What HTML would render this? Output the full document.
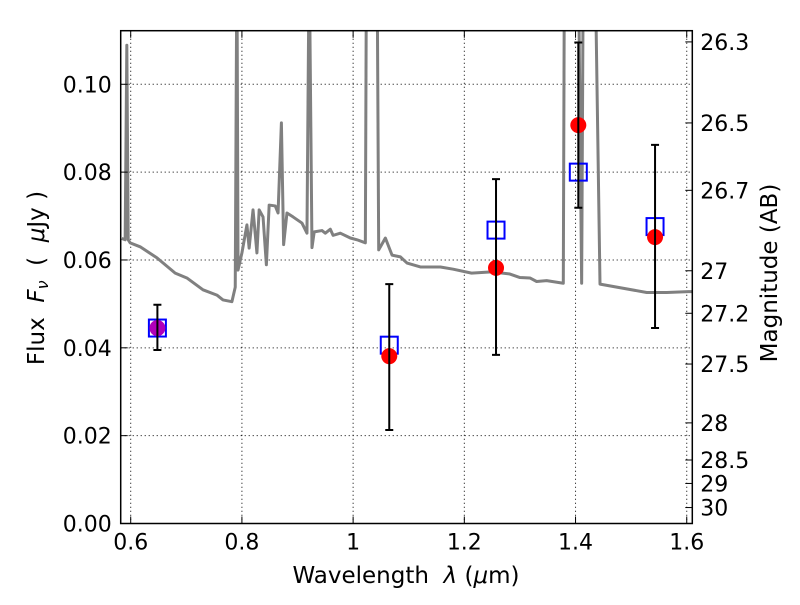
<!DOCTYPE html>
<html><head><meta charset="utf-8"><style>body{margin:0;background:#fff}svg text{font-family:"DejaVu Sans","Liberation Sans",sans-serif}</style></head>
<body>
<svg id="chart" width="800" height="600" xmlns="http://www.w3.org/2000/svg">
<g id="grid"></g>
<g id="spec"></g>
<g id="marks"></g>
<g id="axes"></g>
</svg>
<script>
const specLam=[0.584,0.590,0.593,0.5955,0.599,0.617,0.647,0.680,0.701,0.730,0.755,0.766,0.782,0.788,0.791,0.793,0.800,0.809,0.813,0.820,0.827,0.831,0.838,0.844,0.849,0.860,0.865,0.871,0.875,0.881,0.892,0.908,0.917,0.921,0.926,0.930,0.944,0.950,0.959,0.964,0.977,0.995,1.007,1.022,1.024,1.043,1.046,1.058,1.070,1.085,1.097,1.121,1.157,1.180,1.213,1.249,1.282,1.300,1.318,1.330,1.348,1.378,1.380,1.405,1.411,1.414,1.435,1.444,1.528,1.564,1.603,1.61];
const specFlux=[0.0649,0.0646,0.1089,0.0646,0.0639,0.0630,0.0605,0.0570,0.0559,0.0532,0.0520,0.0509,0.0505,0.0538,0.13,0.0577,0.0616,0.0680,0.0627,0.0714,0.0616,0.0714,0.0698,0.0589,0.0725,0.0723,0.0707,0.0912,0.0635,0.0707,0.0698,0.0684,0.0661,0.13,0.0628,0.0664,0.0667,0.0661,0.0670,0.0656,0.0661,0.0650,0.0646,0.0639,0.13,0.13,0.0623,0.0650,0.0611,0.0607,0.0593,0.0584,0.0584,0.0579,0.0570,0.0573,0.0568,0.0560,0.0559,0.0551,0.0553,0.0547,0.13,0.13,0.0547,0.13,0.13,0.0545,0.0526,0.0526,0.0528,0.0528];
const obsLam=[0.648,1.065,1.257,1.405,1.543];
const obsFlux=[0.0445,0.0381,0.0582,0.0907,0.0652];
const errHi=[0.0498,0.0545,0.0784,0.1095,0.0862];
const errLo=[0.0395,0.0213,0.0384,0.0719,0.0445];
const modelFlux=[0.0445,0.0406,0.0668,0.0800,0.0676];
const xTicks=[0.6,0.8,1.0,1.2,1.4,1.6];
const xTickLabels=["0.6","0.8","1","1.2","1.4","1.6"];
const yTicks=[0,0.02,0.04,0.06,0.08,0.10];
const yTickLabels=["0.00","0.02","0.04","0.06","0.08","0.10"];
const magTicks=[26.3,26.5,26.7,27,27.2,27.5,28,28.5,29,30];
const magLabels=["26.3","26.5","26.7","27","27.2","27.5","28","28.5","29","30"];
const L=120.7,R=692.3,T=30.7,B=523.5,X0=0.582,X1=1.61,Y1=0.1122;
const sx=v=>L+(v-X0)/(X1-X0)*(R-L);
const sy=v=>B-v/Y1*(B-T);
const NS="http://www.w3.org/2000/svg";
function mk(parent,tag,attrs,text){const e=document.createElementNS(NS,tag);for(const k in attrs)e.setAttribute(k,attrs[k]);if(text!==undefined)e.textContent=text;document.getElementById(parent).appendChild(e);return e;}
const defs=mk('chart','defs',{});
const cp=document.createElementNS(NS,'clipPath');cp.setAttribute('id','clip');
const cr=document.createElementNS(NS,'rect');cr.setAttribute('x',L);cr.setAttribute('y',T);cr.setAttribute('width',R-L);cr.setAttribute('height',B-T);cp.appendChild(cr);defs.appendChild(cp);
document.getElementById('spec').setAttribute('clip-path','url(#clip)');
xTicks.forEach((t,i)=>{const g=mk('grid','line',{x1:sx(t),x2:sx(t),y1:T,y2:B,stroke:'#000','stroke-width':1,'stroke-dasharray':'1,3'});

});
yTicks.forEach((t,i)=>{const g=mk('grid','line',{x1:L,x2:R,y1:sy(t),y2:sy(t),stroke:'#000','stroke-width':1,'stroke-dasharray':'1,3'});

});
const sp=mk('spec','polyline',{points:specLam.map((l,i)=>sx(l)+','+sy(specFlux[i])).join(' '),fill:'none',stroke:'#808080','stroke-width':3,'stroke-linejoin':'round'});


obsLam.forEach((l,i)=>{const s=mk('marks','rect',{x:sx(l)-8.5,y:sy(modelFlux[i])-8.5,width:17,height:17,fill:'none',stroke:'#0000ff','stroke-width':2});

});
obsLam.forEach((l,i)=>{const c=mk('marks','circle',{cx:sx(l),cy:sy(obsFlux[i]),r:8,fill:i===0?'#b000b8':'#ff0000'});

});
obsLam.forEach((l,i)=>{const x=sx(l),a=sy(errHi[i]),b=sy(errLo[i]);
const e=mk('marks','path',{d:`M${x},${a}V${b}M${x-4},${a}H${x+4}M${x-4},${b}H${x+4}`,stroke:'#000','stroke-width':2,fill:'none'});

});
const fr=mk('axes','rect',{x:L,y:T,width:R-L,height:B-T,fill:'none',stroke:'#000','stroke-width':1.5});


xTicks.forEach((t,i)=>{mk('axes','path',{d:`M${sx(t)},${B}v-7M${sx(t)},${T}v7`,stroke:'#000'});
const tx=mk('axes','text',{x:sx(t),y:B+26,'text-anchor':'middle','font-size':22},xTickLabels[i]);

});
yTicks.forEach((t,i)=>{mk('axes','path',{d:`M${L},${sy(t)}h7`,stroke:'#000'});
const tx=mk('axes','text',{x:L-9,y:sy(t)+8,'text-anchor':'end','font-size':22},yTickLabels[i]);

});
magTicks.forEach((m,i)=>{const f=Math.pow(10,(23.9-m)/2.5);mk('axes','path',{d:`M${R},${sy(f)}h-7`,stroke:'#000'});
const tx=mk('axes','text',{x:R+8,y:sy(f)+8,'font-size':22},magLabels[i]);

});
</script>
<svg style="position:absolute;left:0;top:0" width="800" height="600" xmlns="http://www.w3.org/2000/svg">
<text x="406" y="583" text-anchor="middle" font-size="23" font-family="DejaVu Sans, Liberation Sans, sans-serif" xml:space="preserve">Wavelength  <tspan font-style="italic">λ</tspan> (<tspan font-style="italic">μ</tspan>m)</text>
<text transform="translate(44,278) rotate(-90)" text-anchor="middle" font-size="23" font-family="DejaVu Sans, Liberation Sans, sans-serif" xml:space="preserve">Flux  <tspan font-style="italic">F</tspan><tspan font-style="italic" font-size="16" dy="4">ν</tspan><tspan dy="-4">  (  </tspan><tspan font-style="italic">μ</tspan>Jy )</text>
<text transform="translate(777,273) rotate(-90)" text-anchor="middle" font-size="23" font-family="DejaVu Sans, Liberation Sans, sans-serif">Magnitude (AB)</text>
</svg>
</body></html>
